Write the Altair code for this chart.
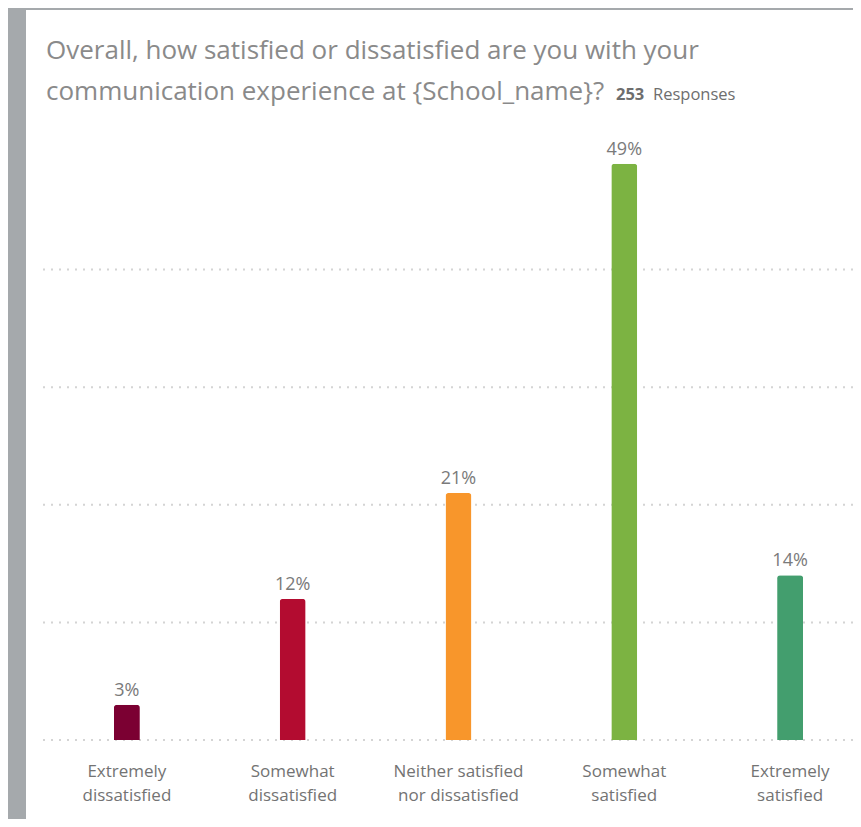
import altair as alt
import pandas as pd

categories = ["Extremely dissatisfied", "Somewhat dissatisfied", "Neither satisfied nor dissatisfied",
              "Somewhat satisfied", "Extremely satisfied"]
label_line1 = ["Extremely", "Somewhat", "Neither satisfied", "Somewhat", "Extremely"]
label_line2 = ["dissatisfied", "dissatisfied", "nor dissatisfied", "satisfied", "satisfied"]
values = [3, 12, 21, 49, 14]
colors = ["#7b0032", "#b30c30", "#f8962b", "#7cb342", "#439e6e"]
grid_values = [0, 10, 20, 30, 40]
title_text = "Overall, how satisfied or dissatisfied are you with your\ncommunication experience at {School_name}?"
responses_count = "253"
responses_word = "Responses"

FONT = "Open Sans"

df = pd.DataFrame({
    "cat": categories,
    "l1": label_line1,
    "l2": label_line2,
    "value": values,
    "pct": [f"{v}%" for v in values],
})
grid_df = pd.DataFrame({"g": grid_values})

x_scale = alt.Scale(domain=categories, range=[18, 847], paddingInner=0, paddingOuter=0)
y_scale = alt.Scale(domain=[0, 730 / 11.76], range=[730, 0], nice=False, zero=True)

grid = alt.Chart(grid_df).mark_rule(
    color="#d4d4d4", strokeWidth=2, strokeDash=[2, 6]
).encode(
    y=alt.Y("g:Q", scale=y_scale, axis=None),
    x=alt.value(17),
    x2=alt.value(827),
)

bars = alt.Chart(df).mark_bar(
    size=26, cornerRadiusTopLeft=3, cornerRadiusTopRight=3
).encode(
    x=alt.X("cat:N", sort=categories, scale=x_scale, axis=None),
    y=alt.Y("value:Q", scale=y_scale, axis=None),
    color=alt.Color("cat:N", scale=alt.Scale(domain=categories, range=colors), legend=None),
)

value_labels = alt.Chart(df).mark_text(
    font=FONT, fontSize=18, color="#7a7a7a", baseline="alphabetic", dy=-9
).encode(
    x=alt.X("cat:N", sort=categories, scale=x_scale, axis=None),
    y=alt.Y("value:Q", scale=y_scale, axis=None),
    text="pct:N",
)

cat_labels1 = alt.Chart(df).mark_text(
    font=FONT, fontSize=17, color="#737373", baseline="alphabetic"
).encode(
    x=alt.X("cat:N", sort=categories, scale=x_scale, axis=None),
    y=alt.value(767),
    text="l1:N",
)

cat_labels2 = alt.Chart(df).mark_text(
    font=FONT, fontSize=17, color="#737373", baseline="alphabetic"
).encode(
    x=alt.X("cat:N", sort=categories, scale=x_scale, axis=None),
    y=alt.value(790.5),
    text="l2:N",
)

title = alt.Chart(pd.DataFrame({"t": [title_text]})).mark_text(
    font=FONT, fontSize=26, color="#8a8a8a", align="left", baseline="alphabetic",
    lineBreak="\n", lineHeight=41
).encode(
    x=alt.value(20), y=alt.value(49), text="t:N"
)

resp_n = alt.Chart(pd.DataFrame({"t": [responses_count]})).mark_text(
    font=FONT, fontSize=16.5, fontWeight="bold", color="#6e6e6e", align="left", baseline="alphabetic"
).encode(
    x=alt.value(590), y=alt.value(90), text="t:N"
)

resp_w = alt.Chart(pd.DataFrame({"t": [responses_word]})).mark_text(
    font=FONT, fontSize=16.5, color="#6e6e6e", align="left", baseline="alphabetic"
).encode(
    x=alt.value(627), y=alt.value(90), text="t:N"
)

chart = alt.layer(grid, bars, value_labels, cat_labels1, cat_labels2, title, resp_n, resp_w).properties(
    width=827, height=809,
    padding={"left": 18, "top": 2, "right": 0, "bottom": 0},
    autosize=alt.AutoSizeParams(type="none"),
    background="#a5a9ac",
).configure_view(
    fill="white", stroke=None
)

chart.save("out.html", embed_options={"renderer": "svg", "actions": False})
